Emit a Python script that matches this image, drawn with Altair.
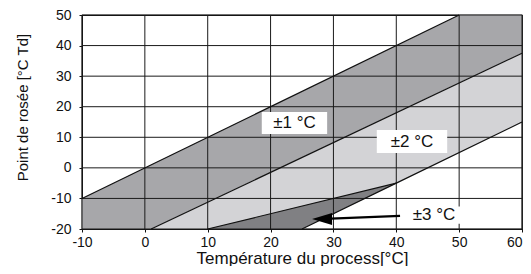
import altair as alt
import pandas as pd

# Axis ticks
x_ticks = [-10, 0, 10, 20, 30, 40, 50, 60]
y_ticks = [-20, -10, 0, 10, 20, 30, 40, 50]

# Band ±1 °C (dark)
b1_x = [-10, 1, 50, 60]
b1_hi = [-10, 1, 50, 50]
b1_lo = [-20, -20, 27.8, 37.5]

# Band ±2 °C (light)
b2_x = [1, 25, 40, 60]
b2_hi = [-20, 3.4, 18.0, 37.5]
b2_lo = [-20, -20, -5, 15]

# Band ±3 °C (darkest triangle)
b3_x = [10, 25, 40]
b3_hi = [-20, -12.5, -5]
b3_lo = [-20, -20, -5]

# Edge lines
edges = [
    ("upper", [-10, 50], [-10, 50]),
    ("mid", [1, 60], [-20, 37.5]),
    ("lower", [25, 40, 60], [-20, -5, 15]),
    ("tri", [10, 40], [-20, -5]),
]

# Labels: text, center x, center y, box x1, x2, y1, y2
labels = ["±1 °C", "±2 °C", "±3 °C"]
lab_x = [23.8, 42.5, 46.0]
lab_y = [14.7, 8.6, -15.4]
box_x1 = [18.6, 36.9, 41.6]
box_x2 = [29.0, 48.1, 50.4]
box_y1 = [11.1, 4.9, -18.3]
box_y2 = [18.3, 12.4, -12.6]

# Arrow for ±3
arrow_x = [40.6, 29.6]
arrow_y = [-15.7, -16.6]
arrow_tip_x = [26.6]
arrow_tip_y = [-16.7]

X_TITLE = "Température du process[°C]"
Y_TITLE = "Point de rosée [°C Td]"

xs = alt.Scale(domain=[-10, 60], nice=False, zero=False)
ys = alt.Scale(domain=[-20, 50], nice=False, zero=False)

xaxis = alt.Axis(
    values=x_ticks, grid=False, labelExpr="'' + datum.value",
    labelAlign={"condition": {"test": "datum.value == 60", "value": "right"}, "value": "center"},
    labelFont="Liberation Sans", labelFontSize=14, labelColor="#111111",
    titleFont="Liberation Sans", titleFontSize=17, titleFontWeight="normal",
    titleColor="#111111", titleBaseline="alphabetic", titleY=34,
    domainColor="#111111", tickColor="#111111", tickSize=3, labelPadding=3,
    labelFlush=False, labelOverlap=False)
yaxis = alt.Axis(
    values=y_ticks, grid=False, labelExpr="'' + datum.value",
    labelFont="Liberation Sans", labelFontSize=14, labelColor="#111111",
    titleFont="Liberation Sans", titleFontSize=15, titleFontWeight="normal",
    titleColor="#111111", titleBaseline="alphabetic", titleX=-55, titleY=92,
    titleAngle=-90, titleAlign="center",
    domainColor="#111111", tickColor="#111111", tickSize=3, labelPadding=8,
    labelFlush=False, labelOverlap=False)


def X(f):
    return alt.X(f, scale=xs, axis=xaxis, title=X_TITLE)


def Y(f):
    return alt.Y(f, scale=ys, axis=yaxis, title=Y_TITLE)


def band(xv, hi, lo, color):
    df = pd.DataFrame({"x": xv, "hi": hi, "lo": lo})
    return alt.Chart(df).mark_area(color=color, opacity=1).encode(
        x=X("x:Q"), y=Y("hi:Q"), y2="lo:Q")


layers = [
    band(b1_x, b1_hi, b1_lo, "#a7a7aa"),
    band(b2_x, b2_hi, b2_lo, "#d3d3d6"),
    band(b3_x, b3_hi, b3_lo, "#808083"),
]

# grid lines
gx = pd.DataFrame({"v": x_ticks})
gy = pd.DataFrame({"v": y_ticks})
layers.append(alt.Chart(gx).mark_rule(color="#1a1a1a", strokeWidth=1).encode(x=X("v:Q")))
layers.append(alt.Chart(gy).mark_rule(color="#1a1a1a", strokeWidth=1).encode(y=Y("v:Q")))

# edge lines
rows = []
for name, ex, ey in edges:
    for i, (a, b) in enumerate(zip(ex, ey)):
        rows.append({"name": name, "x": a, "y": b, "o": i})
edf = pd.DataFrame(rows)
layers.append(alt.Chart(edf).mark_line(color="#111111", strokeWidth=1.2).encode(
    x=X("x:Q"), y=Y("y:Q"), detail="name:N", order="o:Q"))

# label boxes and text
ldf = pd.DataFrame({"t": labels, "x": lab_x, "y": lab_y,
                    "x1": box_x1, "x2": box_x2, "y1": box_y1, "y2": box_y2})
layers.append(alt.Chart(ldf).mark_rect(color="white").encode(
    x=X("x1:Q"), x2="x2:Q", y=Y("y1:Q"), y2="y2:Q"))
layers.append(alt.Chart(ldf).mark_text(font="Liberation Sans", fontSize=17, color="#111111",
                                       align="center", baseline="middle").encode(
    x=X("x:Q"), y=Y("y:Q"), text="t:N"))

# arrow
adf = pd.DataFrame({"x": arrow_x, "y": arrow_y, "o": [0, 1]})
layers.append(alt.Chart(adf).mark_line(color="#000000", strokeWidth=2.2).encode(
    x=X("x:Q"), y=Y("y:Q"), order="o:Q"))
tdf = pd.DataFrame({"x": arrow_tip_x, "y": arrow_tip_y})
layers.append(alt.Chart(tdf).mark_point(
    shape="M 0 0 L 2 -0.6 L 2 0.6 Z", filled=True, color="#000000", opacity=1,
    size=400, strokeWidth=0).encode(x=X("x:Q"), y=Y("y:Q")))

chart = alt.layer(*layers).properties(
    width=440, height=214,
    autosize=alt.AutoSizeParams(type="none"),
    padding={"left": 74, "top": 7, "right": 1, "bottom": 37},
).configure_view(stroke="#111111", strokeWidth=1.2)

chart.save("out.html", embed_options={"renderer": "svg", "actions": False})
